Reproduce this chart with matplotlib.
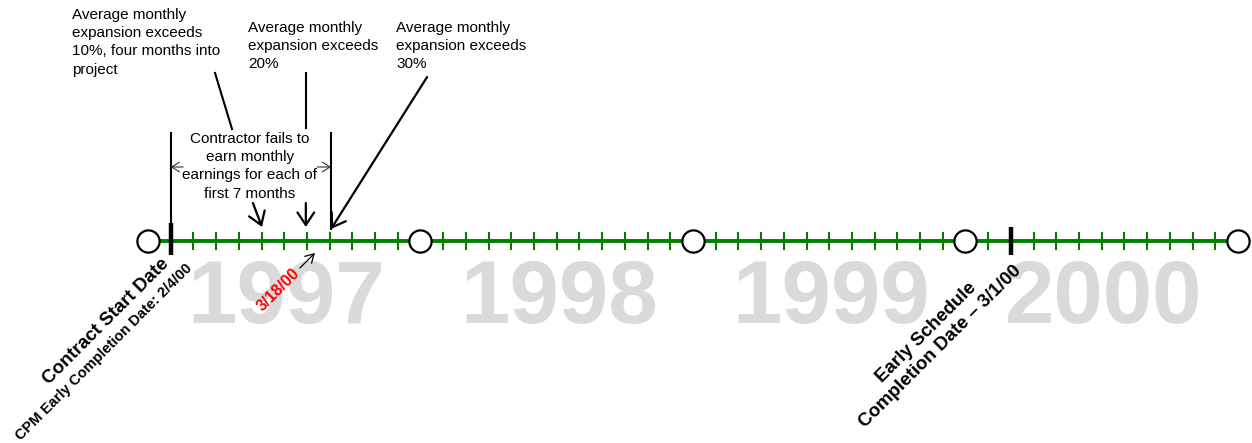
import matplotlib
matplotlib.use("Agg")
from matplotlib import pyplot as plt

plt.rcParams['font.family'] = ['Liberation Sans', 'DejaVu Sans']

# Timeline data (x in months from Jan 1997)
years = ["1997", "1998", "1999", "2000"]
year_bounds = [0, 12, 24, 36, 48]
start_month = 1          # contract start
early_finish_month = 38  # early schedule completion 3/1/00
arrow_months = [5, 7, 8]  # 10%, 20%, 30% expansion points
late_month = 7.35         # 3/18/00 marker

top_notes = ["Average monthly\nexpansion exceeds\n10%, four months into\nproject",
             "Average monthly\nexpansion exceeds\n20%",
             "Average monthly\nexpansion exceeds\n30%"]
bracket_note = "Contractor fails to\nearn monthly\nearnings for each of\nfirst 7 months"

green = '#008000'

fig = plt.figure(figsize=(12.52, 4.43), dpi=100)
ax = fig.add_axes([0, 0, 1, 1])
ax.set_xlim(-148 / 22.708, (1252 - 148) / 22.708)
ax.set_ylim(443, 0)
ax.axis('off')

y0 = 241  # timeline height (pixels from top)

# big grey year labels
for i, yr in enumerate(years):
    mid = (year_bounds[i] + year_bounds[i + 1]) / 2
    ax.text(mid + 0.1, 323, yr, fontsize=64, fontweight='bold', color='#dadada',
            ha='center', va='baseline', zorder=0)

# main line and month ticks
ax.plot([year_bounds[0], year_bounds[-1]], [y0, y0], color=green, lw=2.8, zorder=2)
for m in range(year_bounds[0], year_bounds[-1]):
    if m in year_bounds or m in (start_month, early_finish_month):
        continue
    ax.plot([m, m], [y0 - 8, y0 + 8], color=green, lw=1.5, zorder=2)

# year circles
ax.plot(year_bounds, [y0] * len(year_bounds), 'o', ms=16, mfc='white', mec='black',
        mew=1.6, zorder=4)

# thick black bars
ax.plot([start_month, start_month], [223, 255], color='black', lw=3.2, zorder=3,
        solid_capstyle='butt')
ax.plot([early_finish_month, early_finish_month], [227, 255], color='black', lw=3.2,
        zorder=3, solid_capstyle='butt')

# bracket for first 7 months
ax.plot([start_month, start_month], [133, 223], color='black', lw=1.5)
ax.plot([8.06, 8.06], [133, 229], color='black', lw=1.5)
thin = dict(arrowstyle='->,head_length=0.55,head_width=0.35', lw=0.8, color='#333333',
            shrinkA=0, shrinkB=0)
ax.annotate('', xy=(start_month, 167), xytext=(1.55, 167), arrowprops=thin)
ax.annotate('', xy=(8.06, 167), xytext=(7.45, 167), arrowprops=thin)
ax.text(4.49, 132, bracket_note, fontsize=11, ha='center', va='top', linespacing=1.38)

# top notes and their leader lines
ax.text(-3.35, 8, top_notes[0], fontsize=11, ha='left', va='top', linespacing=1.38)
ax.text(4.40, 21, top_notes[1], fontsize=11, ha='left', va='top', linespacing=1.38)
ax.text(10.92, 21, top_notes[2], fontsize=11, ha='left', va='top', linespacing=1.38)

ax.plot([2.95, 3.70], [73, 129], color='black', lw=1.5)
ax.plot([6.95, 6.95], [73, 128], color='black', lw=1.5)

big = dict(arrowstyle='->,head_length=0.9,head_width=0.6', lw=1.6, color='black',
           shrinkA=0, shrinkB=0)
ax.annotate('', xy=(arrow_months[0] + 0.02, 227), xytext=(4.62, 203), arrowprops=big)
ax.annotate('', xy=(6.95, 227), xytext=(6.95, 203), arrowprops=big)
ax.annotate('', xy=(arrow_months[2] + 0.06, 229), xytext=(12.29, 77), arrowprops=big)

# 3/18/00 marker
ax.annotate('', xy=(late_month, 253), xytext=(6.69, 268),
            arrowprops=dict(arrowstyle='->,head_length=0.6,head_width=0.35', lw=0.9,
                            color='black', shrinkA=0, shrinkB=0))
ax.text(5.73, 290, "3/18/00", fontsize=11.5, fontweight='bold', color='red', rotation=45,
        ha='center', va='center', rotation_mode='anchor')

# rotated milestone labels
ax.text(-1.85, 322, "Contract Start Date", fontsize=13.5, fontweight='bold', rotation=45,
        ha='center', va='center', rotation_mode='anchor')
ax.text(-1.95, 352, "CPM Early Completion Date: 2/4/00", fontsize=10.5, fontweight='bold',
        rotation=45, ha='center', va='center', rotation_mode='anchor')
ax.text(34.6, 340, "Early Schedule\nCompletion Date \u2013 3/1/00", fontsize=13.5,
        fontweight='bold', rotation=45, ha='center', va='center', rotation_mode='anchor',
        multialignment='center', linespacing=1.2)

fig.savefig('out.png', dpi=100)
